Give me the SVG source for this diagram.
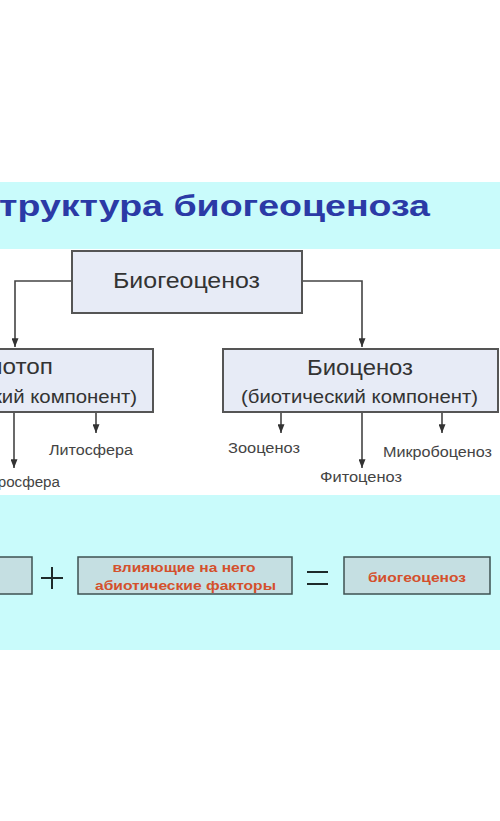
<svg xmlns="http://www.w3.org/2000/svg" width="500" height="821" viewBox="0 0 500 821">
<style>
.band{fill:#c9fbfb}
.node rect{fill:#e7ebf6;stroke:#555;stroke-width:2}
.t{font-family:"Liberation Sans",Arial,sans-serif;fill:#333}
.big{font-size:22px}
.sub{font-size:19px}
.leaf{font-size:14px;fill:#444}
.title{font-family:"Liberation Sans",Arial,sans-serif;font-weight:bold;font-size:30px;fill:#2b3aa6}
.conn{fill:none;stroke:#444;stroke-width:1.6}
.fbox rect{fill:#c5dfe2;stroke:#3e5252;stroke-width:1.5}
.red{font-family:"Liberation Sans",Arial,sans-serif;font-weight:bold;font-size:13px;fill:#d4502c}
.op{stroke:#1e2a2a;stroke-width:2}
</style>
<defs>
<marker id="ah" viewBox="0 0 10 8" refX="10" refY="4" markerWidth="9" markerHeight="7" markerUnits="userSpaceOnUse" orient="auto">
<path d="M0,0 L10,4 L0,8 Z" fill="#333"/>
</marker>
</defs>
<rect x="0" y="0" width="500" height="821" fill="#ffffff"/>
<rect class="band" x="0" y="182" width="500" height="67"/>
<rect class="band" x="0" y="495" width="500" height="155"/>
<text class="title" x="-28" y="216" textLength="458" lengthAdjust="spacingAndGlyphs">Структура биогеоценоза</text>

<g id="connectors">
<path class="conn" d="M72,281 H15 V347" marker-end="url(#ah)"/>
<path class="conn" d="M302,281 H362 V347" marker-end="url(#ah)"/>
<path class="conn" d="M14,412 V468" marker-end="url(#ah)"/>
<path class="conn" d="M96,412 V433" marker-end="url(#ah)"/>
<path class="conn" d="M281,412 V433" marker-end="url(#ah)"/>
<path class="conn" d="M362,412 V468" marker-end="url(#ah)"/>
<path class="conn" d="M442,412 V433" marker-end="url(#ah)"/>
</g>

<g id="biogeocenoz" class="node">
<rect x="72" y="251" width="230" height="62"/>
<text class="t big" x="113" y="288" textLength="147" lengthAdjust="spacingAndGlyphs">Биогеоценоз</text>
</g>
<g id="biotop" class="node">
<rect x="-130" y="349" width="283" height="63"/>
<text class="t big" x="-27" y="374" textLength="80" lengthAdjust="spacingAndGlyphs">Биотоп</text>
<text class="t sub" x="-112" y="403" textLength="249" lengthAdjust="spacingAndGlyphs">(абиотический компонент)</text>
</g>
<g id="biocenoz" class="node">
<rect x="223" y="349" width="275" height="63"/>
<text class="t big" x="307" y="375" textLength="106" lengthAdjust="spacingAndGlyphs">Биоценоз</text>
<text class="t sub" x="241" y="403" textLength="237" lengthAdjust="spacingAndGlyphs">(биотический компонент)</text>
</g>
<g id="gidrosfera"><text class="t leaf" x="-27" y="487" textLength="87" lengthAdjust="spacingAndGlyphs">Гидросфера</text></g>
<g id="litosfera"><text class="t leaf" x="49" y="455" textLength="84" lengthAdjust="spacingAndGlyphs">Литосфера</text></g>
<g id="zoocenoz"><text class="t leaf" x="228" y="453" textLength="72" lengthAdjust="spacingAndGlyphs">Зооценоз</text></g>
<g id="fitocenoz"><text class="t leaf" x="320" y="482" textLength="82" lengthAdjust="spacingAndGlyphs">Фитоценоз</text></g>
<g id="mikrobocenoz"><text class="t leaf" x="383" y="457" textLength="109" lengthAdjust="spacingAndGlyphs">Микробоценоз</text></g>

<g id="formula-left" class="fbox"><rect x="-20" y="557" width="52" height="37"/></g>
<g id="plus"><line class="op" x1="41" y1="578" x2="63" y2="578"/><line class="op" x1="52" y1="567" x2="52" y2="589"/></g>
<g id="factors" class="fbox">
<rect x="78" y="557" width="214" height="37"/>
<text class="red" x="184" y="572" text-anchor="middle" textLength="143" lengthAdjust="spacingAndGlyphs">влияющие на него</text>
<text class="red" x="185.5" y="590" text-anchor="middle" textLength="181" lengthAdjust="spacingAndGlyphs">абиотические факторы</text>
</g>
<g id="equals"><line class="op" x1="307" y1="572" x2="328" y2="572"/><line class="op" x1="307" y1="584" x2="328" y2="584"/></g>
<g id="result" class="fbox">
<rect x="344" y="557" width="146" height="37"/>
<text class="red" x="417" y="582" text-anchor="middle" textLength="98" lengthAdjust="spacingAndGlyphs">биогеоценоз</text>
</g>
</svg>
